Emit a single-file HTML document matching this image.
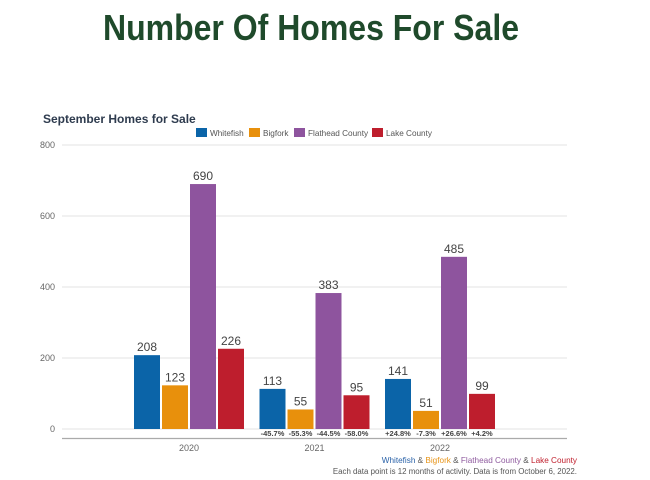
<!DOCTYPE html>
<html><head><meta charset="utf-8"><style>
body{margin:0;background:#fff;}
svg{display:block;font-family:"Liberation Sans",sans-serif;}
</style></head><body>
<svg id="chart" width="650" height="480" viewBox="0 0 650 480">
<text x="311" y="40" text-anchor="middle" font-size="36" font-weight="bold" fill="#1f4a2b" textLength="416" lengthAdjust="spacingAndGlyphs">Number Of Homes For Sale</text>
<text x="43" y="123" font-size="12" font-weight="bold" fill="#2e3b4e">September Homes for Sale</text>
<g id="legend"></g>
<g id="grid"></g>
<g id="bars"></g>
<text x="577" y="463" text-anchor="end" font-size="8.2"><tspan fill="#2a62a8">Whitefish</tspan><tspan fill="#555"> &amp; </tspan><tspan fill="#e8951a">Bigfork</tspan><tspan fill="#555"> &amp; </tspan><tspan fill="#8e5a9e">Flathead County</tspan><tspan fill="#555"> &amp; </tspan><tspan fill="#c0202e">Lake County</tspan></text>
<text x="577" y="474" text-anchor="end" font-size="7.9" fill="#555">Each data point is 12 months of activity. Data is from October 6, 2022.</text>
</svg>
<script>
const categories = ["2020","2021","2022"];
const seriesNames = ["Whitefish","Bigfork","Flathead County","Lake County"];
const whitefish = [208,113,141];
const bigfork = [123,55,51];
const flathead = [690,383,485];
const lake = [226,95,99];
const pctChange = [["","","",""],["-45.7%","-55.3%","-44.5%","-58.0%"],["+24.8%","-7.3%","+26.6%","+4.2%"]];
const yTicks = [0,200,400,600,800];
const colors = ["#0b64a8","#e8900c","#8e549e","#be1e2d"];

const NS="http://www.w3.org/2000/svg";
const y0=429, yTop=145, yMax=800;
const y = v => y0 - v/yMax*(y0-yTop);
const groupCenter = i => 189 + i*125.5;
const barW=26, barStep=28;
function mk(tag, attrs, parent, text){const e=document.createElementNS(NS,tag);for(const k in attrs)e.setAttribute(k,attrs[k]);if(text!==undefined)e.textContent=text;parent.appendChild(e);return e;}

const grid=document.getElementById('grid');
yTicks.forEach(t=>{
  const l=mk('line',{x1:62,x2:567,y1:y(t),y2:y(t),stroke:'#e3e3e3','stroke-width':1},grid);
  
  
  const tx=mk('text',{x:55,y:y(t)+3,'text-anchor':'end','font-size':9,fill:'#666'},grid,String(t));
  
  
});
const ax=mk('line',{x1:62,x2:567,y1:438.5,y2:438.5,stroke:'#aaa','stroke-width':1.2},grid);



const series=[whitefish,bigfork,flathead,lake];
const bars=document.getElementById('bars');
categories.forEach((c,i)=>{
  const cx=groupCenter(i);
  series.forEach((s,j)=>{
    const x=cx-2*barStep+j*barStep+1;
    const r=mk('rect',{x:x,y:y(s[i]),width:barW,height:y0-y(s[i]),fill:colors[j]},bars);
    
    
    const t=mk('text',{x:x+barW/2,y:y(s[i])-4,'text-anchor':'middle','font-size':12,fill:'#444'},bars,String(s[i]));
    
    
    if(pctChange[i][j]){
      const p=mk('text',{x:x+barW/2,y:436,'text-anchor':'middle','font-size':7.5,'font-weight':'bold',fill:'#444'},bars,pctChange[i][j]);
      
      
    }
  });
  const ct=mk('text',{x:cx,y:451,'text-anchor':'middle','font-size':9,fill:'#666'},bars,c);
  
  
});

const lg=document.getElementById('legend');
const legX=[196,249,294,372];
seriesNames.forEach((n,j)=>{
  const g=mk('g',{},lg);
  
  
  mk('rect',{x:legX[j],y:128,width:11,height:9,fill:colors[j]},g);
  mk('text',{x:legX[j]+14,y:136,'font-size':8.2,fill:'#555'},g,n);
});
</script>
</body></html>
